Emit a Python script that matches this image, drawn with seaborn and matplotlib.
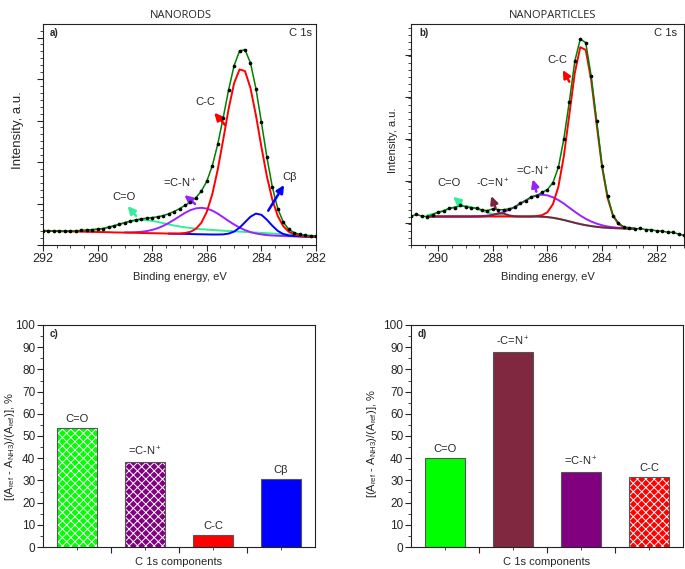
import matplotlib
matplotlib.use("Agg")
import matplotlib.pyplot as plt
import seaborn as sns
from matplotlib.ticker import MultipleLocator, FixedLocator, NullFormatter

# ---------------- data: panel a (NANORODS, C 1s) ----------------
a_energy = [282.0, 282.2, 282.4, 282.6, 282.8, 283.0, 283.2, 283.4, 283.6, 283.8,
            284.0, 284.2, 284.4, 284.6, 284.8, 285.0, 285.2, 285.4, 285.6, 285.8,
            286.0, 286.2, 286.4, 286.6, 286.8, 287.0, 287.2, 287.4, 287.6, 287.8,
            288.0, 288.2, 288.4, 288.6, 288.8, 289.0, 289.2, 289.4, 289.6, 289.8,
            290.0, 290.2, 290.4, 290.6, 290.8, 291.0, 291.2, 291.4, 291.6, 291.8,
            292.0]
a_envelope = [9.0, 9.3, 9.7, 10.7, 12.3, 15.7, 23.0, 36.3, 58.0, 87.9,
              122.8, 156.4, 182.0, 195.3, 194.0, 179.4, 155.3, 127.2, 100.7, 79.1,
              63.8, 53.8, 47.4, 43.1, 39.6, 36.3, 33.5, 31.1, 29.4, 28.2,
              27.4, 26.8, 26.2, 25.1, 23.8, 22.4, 20.8, 19.1, 17.8, 16.4,
              16.0, 15.4, 15.0, 14.6, 14.2, 13.8, 13.8, 13.8, 14.0, 14.1,
              14.2]
a_cc = [8.2, 8.3, 8.6, 9.3, 10.6, 13.3, 18.9, 28.9, 45.3, 68.8,
        98.1, 129.6, 156.9, 173.9, 175.6, 161.8, 136.2, 105.2, 75.3, 50.7,
        33.2, 22.2, 16.1, 13.2, 12.0, 11.5, 11.4, 11.4, 11.6, 11.7,
        11.8, 11.9, 12.0, 12.2, 12.3, 12.4, 12.5, 12.6, 12.8, 12.9,
        13.0, 13.1, 13.2, 13.4, 13.5, 13.6, 13.7, 13.8, 14.0, 14.1,
        14.2]
a_co = [9.0, 9.2, 9.5, 9.9, 10.2, 10.5, 10.8, 11.1, 11.5, 11.8,
        12.1, 12.4, 12.7, 13.1, 13.4, 13.7, 14.0, 14.3, 14.7, 15.0,
        15.4, 15.8, 16.3, 17.0, 17.7, 18.5, 19.5, 20.6, 21.9, 23.1,
        24.1, 24.8, 25.0, 24.5, 23.5, 22.2, 20.7, 19.1, 17.8, 16.4,
        15.5, 14.6, 14.0, 13.9, 13.8, 13.8, 13.8, 13.8, 14.0, 14.1,
        14.2]
a_cn = [8.2, 8.3, 8.4, 8.6, 8.7, 8.8, 9.0, 9.2, 9.5, 9.9,
        10.6, 11.5, 12.9, 14.9, 17.4, 20.5, 24.0, 27.7, 31.4, 34.4,
        36.4, 37.2, 36.6, 34.9, 32.1, 28.7, 25.2, 21.9, 19.1, 16.8,
        15.1, 13.9, 13.2, 12.8, 12.6, 12.6]
a_cbeta = [8.2, 8.3, 8.4, 8.6, 8.9, 9.5, 11.0, 14.1, 19.3, 25.3,
           30.2, 31.4, 28.3, 22.8, 17.3, 13.4, 11.4, 10.6, 10.5, 10.5,
           10.6, 10.7, 10.8, 11.0, 11.1, 11.2, 11.3, 11.4]

# ---------------- data: panel b (NANOPARTICLES, C 1s) ----------------
b_energy = [281.0, 281.2, 281.4, 281.6, 281.8, 282.0, 282.2, 282.4, 282.6, 282.8,
            283.0, 283.2, 283.4, 283.6, 283.8, 284.0, 284.2, 284.4, 284.6, 284.8,
            285.0, 285.2, 285.4, 285.6, 285.8, 286.0, 286.2, 286.4, 286.6, 286.8,
            287.0, 287.2, 287.4, 287.6, 287.8, 288.0, 288.2, 288.4, 288.6, 288.8,
            289.0, 289.2, 289.4, 289.6, 289.8, 290.0, 290.2, 290.4, 290.6, 290.8,
            291.0]
b_data = [9.6, 11.0, 12.6, 12.8, 13.9, 14.1, 15.3, 15.4, 16.6, 16.0,
          17.4, 17.6, 22.1, 29.4, 49.0, 79.2, 124.5, 168.9, 202.3, 206.0,
          183.8, 143.5, 106.5, 77.8, 62.4, 55.5, 52.6, 49.5, 48.2, 44.1,
          41.9, 37.6, 36.2, 35.3, 35.2, 36.2, 34.4, 35.0, 36.9, 37.2,
          38.4, 39.6, 37.5, 36.8, 34.0, 32.9, 30.5, 28.4, 28.8, 30.6,
          28.6]
# fitted components, 282.8 ... 290.4 eV
b_cc = [16.3, 16.7, 17.8, 21.0, 29.3, 47.1, 77.9, 120.6, 165.1, 195.1,
        197.8, 172.1, 130.5, 89.1, 58.4, 40.9, 32.8, 29.8, 28.9, 28.5,
        28.5, 28.5, 28.5, 28.5, 28.5, 28.5, 28.5, 28.5, 28.5, 28.5,
        28.5, 28.5, 28.5, 28.5, 28.5, 28.5, 28.5, 28.5, 28.5]
b_cn = [16.4, 16.6, 16.8, 17.2, 17.7, 18.5, 19.7, 21.4, 23.5, 26.2,
        29.5, 33.3, 37.3, 41.4, 44.9, 47.7, 49.6, 50.3, 49.6, 47.5,
        44.6, 41.3, 38.1, 35.2, 33.0, 31.3, 30.1, 29.4, 29.0, 28.7,
        28.5, 28.5, 28.5, 28.5, 28.5, 28.5, 28.5, 28.5, 28.5]
b_co = [16.3, 16.4, 16.5, 16.7, 16.9, 17.2, 17.6, 18.2, 18.9, 19.8,
        20.9, 22.2, 23.6, 25.0, 26.2, 27.2, 27.9, 28.3, 28.5, 28.5,
        28.5, 28.5, 28.5, 28.8, 29.2, 29.9, 31.0, 32.5, 34.4, 36.3,
        37.9, 38.9, 38.9, 37.9, 36.3, 34.4, 32.5, 31.0, 29.9]
b_ccn = [16.3, 16.4, 16.5, 16.7, 16.9, 17.2, 17.6, 18.2, 18.9, 19.8,
         20.9, 22.2, 23.6, 25.0, 26.2, 27.2, 27.9, 28.3, 28.5, 28.5,
         28.5, 28.5, 28.7, 29.6, 31.4, 31.7, 30.1, 28.9, 28.5, 28.5,
         28.5, 28.5, 28.5, 28.5, 28.5, 28.5, 28.5, 28.5, 28.5]

# ---------------- data: bar panels ----------------
c_labels = ["C=O", "=C-N$^+$", "C-C", "C\u03b2"]
c_values = [53.8, 38.2, 5.4, 30.7]
d_labels = ["C=O", "-C=N$^+$", "=C-N$^+$", "C-C"]
d_values = [40.2, 87.9, 33.7, 31.5]

# ---------------- style ----------------
sns.set_style("ticks")
plt.rcParams["font.family"] = ["Liberation Sans", "DejaVu Sans"]
plt.rcParams["mathtext.fontset"] = "custom"
plt.rcParams["mathtext.rm"] = "Liberation Sans"
plt.rcParams["mathtext.it"] = "Liberation Sans:italic"
plt.rcParams["mathtext.bf"] = "Liberation Sans:bold"
plt.rcParams["hatch.linewidth"] = 0.7
plt.rcParams["axes.edgecolor"] = "#222222"
plt.rcParams["axes.linewidth"] = 0.8

COL_CO = "#33ee99"
COL_CN = "#9922ff"
COL_CC = "#ff0000"
COL_CB = "#0000ff"
COL_CCN = "#7f2040"
COL_ENV = "#008000"

c_colors = ["#00ff00", "#800080", "#ff0000", "#0000ff"]
c_hatch = [True, True, False, False]
d_colors = ["#00ff00", "#7f2840", "#800080", "#ff0000"]
d_hatch = [False, False, False, True]

W, H = 685, 569
fig = plt.figure(figsize=(W / 100, H / 100), dpi=100)


def ax_at(l, t, r, b):
    return fig.add_axes([l / W, 1 - b / H, (r - l) / W, (b - t) / H])


axa = ax_at(43, 24, 316, 245)
axb = ax_at(411, 24, 684, 245)
axc = ax_at(43, 325, 315, 547)
axd = ax_at(411, 325, 683, 547)


def line(ax, x, y, color, lw=1.4):
    sns.lineplot(x=x[:len(y)], y=y, ax=ax, color=color, lw=lw, sort=False,
                 estimator=None)


def arrow_tag(ax, text, lab, head, tail, color):
    ax.text(lab[0], lab[1], text, ha="center", va="center", fontsize=8)
    ax.annotate("", xy=head, xytext=tail,
                arrowprops=dict(arrowstyle="-|>,head_width=0.22,head_length=0.45",
                                color=color, lw=1.8, shrinkA=0, shrinkB=0))


def spectrum_axes(ax, xlim, yticks, ylab_pos, ylab_size):
    ax.set_xlim(*xlim)
    ax.set_ylim(0, 221)
    ax.xaxis.set_major_locator(MultipleLocator(2))
    ax.xaxis.set_minor_locator(MultipleLocator(0.5))
    ax.yaxis.set_major_locator(FixedLocator(yticks))
    step = (yticks[1] - yticks[0]) / 6
    ax.yaxis.set_minor_locator(MultipleLocator(step))
    ax.yaxis.set_major_formatter(NullFormatter())
    ax.tick_params(which="major", direction="out", length=4, width=0.8,
                   labelsize=9, pad=2)
    ax.tick_params(which="minor", direction="out", length=2, width=0.6)
    ax.set_xlabel("Binding energy, eV", fontsize=8, labelpad=5)
    ax.set_ylabel("Intensity, a.u.", fontsize=ylab_size)
    ax.yaxis.set_label_coords(*ylab_pos)


# ---- panel a ----
line(axa, a_energy, a_co, COL_CO)
line(axa, a_energy, a_cn, COL_CN)
line(axa, a_energy, a_cbeta, COL_CB)
line(axa, a_energy, a_cc, COL_CC)
line(axa, a_energy, a_envelope, COL_ENV, lw=1.1)
sns.scatterplot(x=a_energy, y=a_envelope, ax=axa, color="black", s=7,
                linewidth=0, zorder=5)
spectrum_axes(axa, (292, 282), [0, 41.5, 83, 124.5, 166, 207.5],
              (-0.068, 0.52), 9.5)
arrow_tag(axa, "C=O", (289.03, 48.3), (288.9, 39), (288.59, 29), COL_CO)
arrow_tag(axa, "=C-N$^+$", (286.98, 61.7), (286.82, 50), (286.43, 41), COL_CN)
arrow_tag(axa, "C-C", (286.07, 143.3), (285.73, 132.3), (285.33, 120), COL_CC)
arrow_tag(axa, "C\u03b2", (282.95, 68.3), (283.17, 60), (283.75, 34.3), COL_CB)
axa.text(0.023, 0.958, "a)", transform=axa.transAxes, fontsize=7,
         fontweight="bold", va="center", ha="left")
axa.text(0.984, 0.958, "C 1s", transform=axa.transAxes, fontsize=8,
         va="center", ha="right")

# ---- panel b ----
line(axb, b_energy[9:], b_co, COL_CO)
line(axb, b_energy[9:], b_cn, COL_CN)
line(axb, b_energy[9:], b_cc, COL_CC)
line(axb, b_energy[9:], b_ccn, COL_CCN)
line(axb, b_energy, b_data, COL_ENV, lw=1.1)
sns.scatterplot(x=b_energy, y=b_data, ax=axb, color="black", s=7,
                linewidth=0, zorder=5)
spectrum_axes(axb, (291, 281), [21.7, 63.7, 105.7, 147.7, 189.7],
              (-0.046, 0.475), 8)
arrow_tag(axb, "C=O", (289.6, 61.7), (289.46, 48.3), (289.15, 41), COL_CO)
arrow_tag(axb, "-C=N$^+$", (288.0, 61.7), (288.06, 49), (287.9, 36.7), COL_CCN)
arrow_tag(axb, "=C-N$^+$", (286.54, 73.3), (286.54, 65.7), (286.41, 53.3), COL_CN)
arrow_tag(axb, "C-C", (285.62, 185), (285.44, 175), (285.2, 163.3), COL_CC)
axb.text(0.029, 0.958, "b)", transform=axb.transAxes, fontsize=7,
         fontweight="bold", va="center", ha="left")
axb.text(0.973, 0.958, "C 1s", transform=axb.transAxes, fontsize=8,
         va="center", ha="right")

fig.text(181 / W, 1 - 15 / H, "NANORODS", ha="center", va="center",
         family="Open Sans", fontsize=8)
fig.text(553 / W, 1 - 15 / H, "NANOPARTICLES", ha="center", va="center",
         family="Open Sans", fontsize=8)


# ---- bar panels ----
def bar_panel(ax, labels, values, colors, hatched, letter, ylab_pos):
    sns.barplot(x=labels, y=values, hue=labels, palette=colors, order=labels,
                hue_order=labels, ax=ax, width=0.6, saturation=1,
                edgecolor="#555555", linewidth=0.8, legend=False)
    for p in ax.patches:
        idx = int(round(p.get_x() + p.get_width() / 2))
        if 0 <= idx < len(hatched) and hatched[idx]:
            p.set_hatch("xxxx")
            if hasattr(p, "set_hatchcolor"):
                p.set_hatchcolor("white")
            else:
                p._hatch_color = (1, 1, 1, 1)
    for i, (lab, v) in enumerate(zip(labels, values)):
        ax.text(i, v + 1.8, lab, ha="center", va="bottom", fontsize=8)
    ax.set_xlim(-0.5, 3.5)
    ax.set_ylim(0, 100)
    ax.xaxis.set_major_locator(FixedLocator([0.5, 1.5, 2.5]))
    ax.xaxis.set_minor_locator(FixedLocator([0, 1, 2, 3]))
    ax.xaxis.set_major_formatter(NullFormatter())
    ax.yaxis.set_major_locator(MultipleLocator(10))
    ax.yaxis.set_minor_locator(MultipleLocator(5))
    ax.tick_params(which="major", direction="out", length=4, width=0.8,
                   labelsize=8.5, pad=1.5)
    ax.tick_params(which="minor", direction="out", length=2, width=0.6)
    ax.set_xlabel("C 1s components", fontsize=8, labelpad=2)
    ax.set_ylabel(r"[(A$_{\rm ref}$ - A$_{\rm NH3}$)/(A$_{\rm ref}$)], %",
                  fontsize=8)
    ax.yaxis.set_label_coords(*ylab_pos)
    ax.text(0.025, 0.96, letter, transform=ax.transAxes, fontsize=7,
            fontweight="bold", va="center", ha="left")


bar_panel(axc, c_labels, c_values, c_colors, c_hatch, "c)", (-0.095, 0.4525))
bar_panel(axd, d_labels, d_values, d_colors, d_hatch, "d)", (-0.118, 0.468))

fig.savefig("out.png", dpi=100)
